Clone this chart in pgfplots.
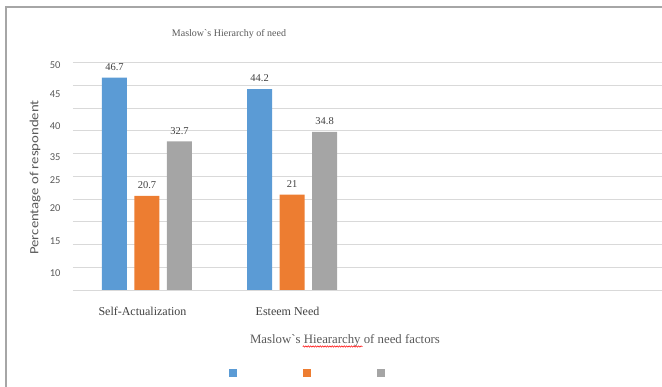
\documentclass[border=0pt]{standalone}
\usepackage{pgfplots}
\pgfplotsset{compat=1.18}
\usepackage{fontspec}
\setmainfont{Liberation Serif}
\newfontfamily\calib{Carlito}
\usetikzlibrary{decorations.pathmorphing}

\definecolor{cblue}{HTML}{5B9BD5}
\definecolor{corange}{HTML}{ED7D31}
\definecolor{cgray}{HTML}{A5A5A5}
\definecolor{ctxt}{HTML}{404040}
\definecolor{ctick}{HTML}{595959}
\definecolor{cgrid}{HTML}{D9D9D9}
\definecolor{cframe}{HTML}{A6A6A6}

\begin{document}
\begin{tikzpicture}[x=1pt,y=1pt]
\useasboundingbox (0,0) rectangle (662,387);
% chart frame
\draw[cframe, line width=1.3pt] (6,-2) -- (6,380) -- (670,380);

\begin{axis}[
  at={(73pt,97pt)}, anchor=south west,
  scale only axis,
  width=589pt, height=227.3pt,
  xmin=-0.51, xmax=3.55,
  ymin=0, ymax=50,
  ybar=7.5pt, bar width=25pt,
  axis line style={draw=none},
  major tick length=0pt,
  tick style={draw=none},
  % gridlines every 5
  ytick={0,5,...,50},
  yticklabels={},
  ymajorgrids,
  grid style={cgrid, line width=0.9pt},
  % value labels on the left
  extra y ticks={49.5,43.1,36.1,29.3,24.2,18.0,10.8,3.7},
  extra y tick labels={50,45,40,35,25,20,15,10},
  extra y tick style={grid=none,
    yticklabel style={font=\calib\fontsize{10.5}{12}\selectfont, text=ctick, xshift=-9pt}},
  /pgf/number format/assume math mode=true,
  xtick={0,1},
  xticklabels={Self-Actualization, Esteem Need},
  xticklabel style={font=\fontsize{12}{14}\selectfont, text=ctxt, yshift=-14pt, xshift=-4.5pt},
  nodes near coords,
  every node near coord/.append style={font=\fontsize{10.5}{12}\selectfont, text=ctxt, yshift=3.5pt},
  legend columns=3,
  legend style={at={(0.4,-0.365)}, anchor=center, draw=none, fill=none,
    /tikz/every even column/.append style={column sep=62pt}},
  legend image code/.code={\fill[#1] (0pt,-4pt) rectangle (8pt,4pt);},
]
\addplot[fill=cblue, draw=none] coordinates {(0,46.7) (1,44.2)};
\addlegendentry{\strut}
\addplot[fill=corange, draw=none] coordinates {(0,20.7) (1,21)};
\addlegendentry{\strut}
\addplot[fill=cgray, draw=none] coordinates {(0,32.7) (1,34.8)};
\addlegendentry{\strut}
\end{axis}

% titles
\node[text=ctick, font=\fontsize{10}{12}\selectfont] at (229,353) {Maslow\textasciigrave s Hierarchy of need};
\node[text=ctick, font=\fontsize{12.8}{14}\selectfont] at (345,46.3) {Maslow\textasciigrave s Hieararchy of need factors};
\draw[red, line width=0.5pt, decorate, decoration={snake, amplitude=0.7pt, segment length=2.4pt}] (302.7,40.5) -- (362.7,40.5);
\node[rotate=90, text=ctick, font=\calib\fontsize{12.5}{14}\selectfont] at (35,209.5) {\scalebox{1.18}[1]{Percentage of respondent}};
\end{tikzpicture}
\end{document}
